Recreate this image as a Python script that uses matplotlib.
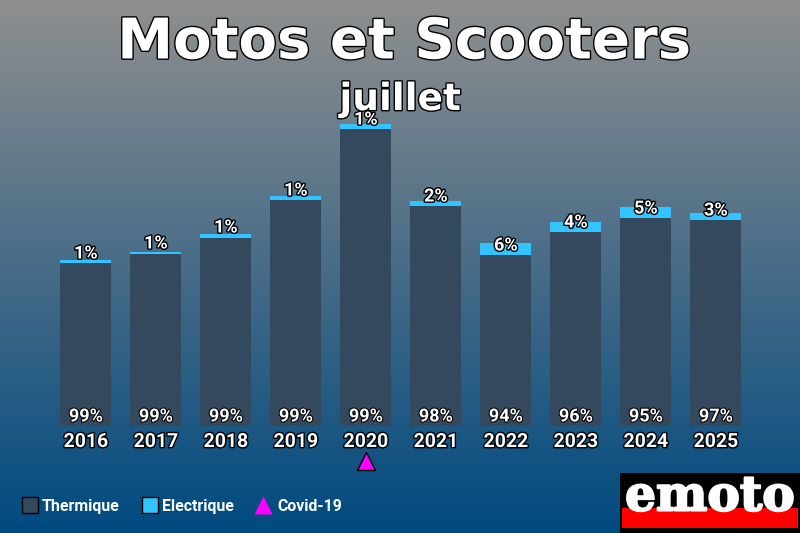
import numpy as np
import matplotlib
matplotlib.use("Agg")
import matplotlib.pyplot as plt
import matplotlib.patheffects as pe
from matplotlib.colors import LinearSegmentedColormap
from matplotlib.patches import Rectangle

years = ["2016", "2017", "2018", "2019", "2020", "2021", "2022", "2023", "2024", "2025"]
thermique = [163, 172, 188, 226, 297, 220, 171, 194, 208, 206]
electrique = [3, 2, 4, 4, 5, 5, 12, 10, 11, 7]
pct_thermique = [99, 99, 99, 99, 99, 98, 94, 96, 95, 97]
pct_electrique = [1, 1, 1, 1, 1, 2, 6, 4, 5, 3]
upper_label_y = [173, 183, 199, 236, 307, 230, 181, 204, 218, 216]
covid_year = "2020"

W, H = 800, 533
fig = plt.figure(figsize=(W / 100, H / 100), dpi=100)
ax = fig.add_axes([0, 0, 1, 1])
ax.set_xlim(-85.5 / 70, (W - 85.5) / 70)
ax.set_ylim(-107, 426)
ax.axis("off")

cmap = LinearSegmentedColormap.from_list("bg", ["#8f8f8f", "#004a80"])
ax.imshow(np.linspace(0, 1, 256)[:, None], cmap=cmap, aspect="auto",
          extent=[*ax.get_xlim(), -107, 426], origin="upper", zorder=0)

TH = "#34495e"
EL = "#33c4ff"
x = np.arange(len(years))
ax.bar(x, thermique, width=51 / 70, color=TH, zorder=2)
ax.bar(x, electrique, width=51 / 70, bottom=thermique, color=EL, zorder=2)


def stroke(w):
    return [pe.withStroke(linewidth=w, foreground="black")]


for i, yr in enumerate(years):
    ax.text(i + 0.005, 9.5, f"{pct_thermique[i]}%", ha="center", va="center", color="white",
            family="Roboto", weight="bold", fontsize=13, path_effects=stroke(1.5), zorder=4)
    ax.text(i + 0.005, upper_label_y[i] - 0.5, f"{pct_electrique[i]}%", ha="center", va="center", color="white",
            family="Roboto", weight="bold", fontsize=13, path_effects=stroke(2), zorder=4)
    ax.text(i + 0.005, -16, yr, ha="center", va="center", color="white",
            family="Roboto", weight="bold", fontsize=14, path_effects=stroke(2), zorder=4)

ax.plot([years.index(covid_year)], [-35], marker="^", ms=13, mfc="#ff00ff", mec="black", mew=1, zorder=4)

fig.text(0.505, 1 - 43.5 / H, "Motos et Scooters", ha="center", va="center", color="white",
         family="DejaVu Sans", weight="bold", fontsize=40.4, path_effects=stroke(2), zorder=5)
fig.text(0.5, 1 - 100 / H, "juillet", ha="center", va="center", color="white",
         family="DejaVu Sans", weight="bold", fontsize=27, path_effects=stroke(2), zorder=5)


def px(xp, yp, w, h, **kw):
    fig.add_artist(Rectangle((xp / W, 1 - (yp + h) / H), w / W, h / H, transform=fig.transFigure, **kw))


px(22, 497, 16, 16, fc=TH, ec="black", lw=1)
fig.text(42 / W, 1 - 506.5 / H, "Thermique", color="white", family="Roboto", weight="bold",
         fontsize=11.4, va="center")
px(142, 497, 16, 16, fc=EL, ec="black", lw=1)
fig.text(162 / W, 1 - 506.5 / H, "Electrique", color="white", family="Roboto", weight="bold",
         fontsize=11.4, va="center")
ax.plot([(263 - 85.5) / 70], [426 - 505], marker="^", ms=13, mfc="#ff00ff", mec="none", zorder=4)
fig.text(277 / W, 1 - 506.5 / H, "Covid-19", color="white", family="Roboto", weight="bold",
         fontsize=11.4, va="center")

px(620, 473, 180, 60, fc="black", ec="none")
px(622, 508, 176, 20, fc="#ff0000", ec="none")
fig.text(710 / W, 1 - 497 / H, "emoto", ha="center", va="center", color="white",
         family="DejaVu Serif", weight="bold", fontsize=35, zorder=6,
         path_effects=[pe.withStroke(linewidth=1.5, foreground="white")])

fig.savefig("out.png", dpi=100)
